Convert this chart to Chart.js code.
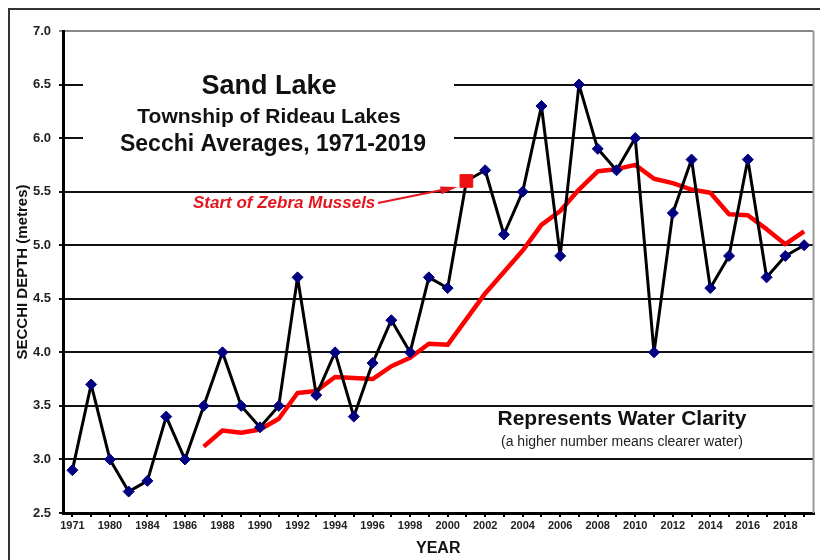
<!DOCTYPE html>
<html>
<head>
<meta charset="utf-8">
<title>Sand Lake Secchi Averages</title>
<script src="https://cdn.jsdelivr.net/npm/chart.js@4"></script>
<style>
  body { margin: 0; background: #fff; }
  #wrap { width: 820px; height: 560px; }
</style>
</head>
<body>
<div id="wrap"><canvas id="secchiChart" width="820" height="560"></canvas></div>
<script>
// Categories (only every other one is labelled on the axis)
const years = ['1971', '1977', '1980', '1982', '1984', '1985', '1986', '1987', '1988', '1989',
  '1990', '1991', '1992', '1993', '1994', '1995', '1996', '1997', '1998', '1999',
  '2000', '2001', '2002', '2003', '2004', '2005', '2006', '2007', '2008', '2009',
  '2010', '2011', '2012', '2013', '2014', '2015', '2016', '2017', '2018', '2019'];

// Yearly Secchi depth averages (metres)
const depth = [2.9, 3.7, 3.0, 2.7, 2.8, 3.4, 3.0, 3.5, 4.0, 3.5,
  3.3, 3.5, 4.7, 3.6, 4.0, 3.4, 3.9, 4.3, 4.0, 4.7,
  4.6, 5.6, 5.7, 5.1, 5.5, 6.3, 4.9, 6.5, 5.9, 5.7,
  6.0, 4.0, 5.3, 5.8, 4.6, 4.9, 5.8, 4.7, 4.9, 5.0];

// Trend line (moving average), starts in 1987
const trend = [null, null, null, null, null, null, null, 3.12, 3.27, 3.25,
  3.28, 3.38, 3.62, 3.64, 3.77, 3.76, 3.75, 3.87, 3.95, 4.08,
  4.07, 4.31, 4.55, 4.75, 4.95, 5.19, 5.32, 5.52, 5.69, 5.71,
  5.75, 5.62, 5.58, 5.52, 5.49, 5.29, 5.28, 5.15, 5.01, 5.13];

const zebraYear = '2001';
const yTicks = [2.5, 3.0, 3.5, 4.0, 4.5, 5.0, 5.5, 6.0, 6.5, 7.0];

const FONT = '"Liberation Sans", Arial, sans-serif';
const zebraIdx = years.indexOf(zebraYear);

function drawText(ctx, txt, x, y, font, color, align) {
  ctx.save();
  ctx.font = font;
  ctx.fillStyle = color;
  ctx.textAlign = align || 'center';
  ctx.textBaseline = 'alphabetic';
  ctx.fillText(txt, x, y);
  ctx.restore();
}

// Frame, title box and annotations
const decorations = {
  id: 'decorations',
  beforeDraw(chart) {
    const ctx = chart.ctx;
    ctx.save();
    ctx.fillStyle = '#fff';
    ctx.fillRect(0, 0, chart.width, chart.height);
    ctx.strokeStyle = '#333';
    ctx.lineWidth = 2;
    ctx.strokeRect(9, 9, chart.width + 20, chart.height + 20);
    ctx.restore();
  },
  beforeDatasetsDraw(chart) {
    const ctx = chart.ctx;
    const a = chart.chartArea;
    ctx.save();
    // white box behind the title hides part of the grid
    ctx.fillStyle = '#fff';
    ctx.fillRect(a.left + 20, 45, 371, 125);
    // right border of the plot
    ctx.strokeStyle = '#999';
    ctx.lineWidth = 2;
    ctx.beginPath();
    ctx.moveTo(a.right, a.top);
    ctx.lineTo(a.right, a.bottom);
    ctx.stroke();
    ctx.restore();
  },
  afterDraw(chart) {
    const ctx = chart.ctx;
    drawText(ctx, 'Sand Lake', 269, 94, 'bold 27px ' + FONT, '#111');
    drawText(ctx, 'Township of Rideau Lakes', 269, 123, 'bold 21px ' + FONT, '#111');
    drawText(ctx, 'Secchi Averages, 1971-2019', 273, 151, 'bold 23px ' + FONT, '#111');

    drawText(ctx, 'Represents Water Clarity', 622, 425, 'bold 21px ' + FONT, '#111');
    drawText(ctx, '(a higher number means clearer water)', 622, 446, '14px ' + FONT, '#222');

    drawText(ctx, 'Start of Zebra Mussels', 193, 208, 'italic bold 17px ' + FONT, '#e3161e', 'left');

    // arrow to the zebra mussel point
    const px = chart.scales.x.getPixelForValue(zebraIdx);
    const py = chart.scales.y.getPixelForValue(depth[zebraIdx]);
    const tx = px - 9, ty = py + 6;
    const sx = 378, sy = 203;
    const ang = Math.atan2(ty - sy, tx - sx);
    ctx.save();
    ctx.strokeStyle = '#e3161e';
    ctx.fillStyle = '#e3161e';
    ctx.lineWidth = 2;
    ctx.beginPath();
    ctx.moveTo(sx, sy);
    ctx.lineTo(tx - Math.cos(ang) * 12, ty - Math.sin(ang) * 12);
    ctx.stroke();
    ctx.beginPath();
    ctx.moveTo(tx, ty);
    ctx.lineTo(tx - Math.cos(ang) * 17 + Math.sin(ang) * 4, ty - Math.sin(ang) * 17 - Math.cos(ang) * 4);
    ctx.lineTo(tx - Math.cos(ang) * 17 - Math.sin(ang) * 4, ty - Math.sin(ang) * 17 + Math.cos(ang) * 4);
    ctx.closePath();
    ctx.fill();
    ctx.restore();
  }
};

const pointStyles = years.map((y, i) => i === zebraIdx ? 'rect' : 'rectRot');
const pointColors = years.map((y, i) => i === zebraIdx ? '#ee1111' : '#000080');
const pointSizes = years.map((y, i) => i === zebraIdx ? 9 : 5.5);

const ctx = document.getElementById('secchiChart').getContext('2d');
const secchiChart = new Chart(ctx, {
  type: 'line',
  data: {
    labels: years,
    datasets: [{
      label: 'Secchi depth',
      data: depth,
      borderColor: '#000',
      borderWidth: 3,
      borderJoinStyle: 'round',
      pointStyle: pointStyles,
      pointRadius: pointSizes,
      pointBackgroundColor: pointColors,
      pointBorderColor: pointColors,
      pointBorderWidth: 1,
      tension: 0,
      order: 0
    }, {
      label: 'Trend',
      data: trend,
      borderColor: '#ff0000',
      borderWidth: 4.5,
      borderJoinStyle: 'round',
      pointRadius: 0,
      tension: 0,
      order: 1
    }]
  },
  options: {
    responsive: false,
    animation: false,
    layout: { padding: { top: 31, right: 5, left: 0, bottom: 0 } },
    plugins: {
      legend: { display: false },
      tooltip: { enabled: false }
    },
    scales: {
      x: {
        type: 'category',
        offset: true,
        afterFit: function(scale) { scale.height = 47; },
        border: { color: '#000', width: 3 },
        grid: {
          display: true,
          drawOnChartArea: false,
          drawTicks: true,
          tickLength: 4,
          color: '#000',
          lineWidth: 2
        },
        ticks: {
          autoSkip: false,
          maxRotation: 0,
          padding: 2,
          color: '#222',
          font: { family: FONT, size: 11, weight: 'bold' },
          callback: function(val, i) { return i % 2 === 0 ? years[i] : ''; }
        },
        title: {
          display: true,
          text: 'YEAR',
          color: '#111',
          font: { family: FONT, size: 16, weight: 'bold' },
          padding: { top: 0, bottom: 2 }
        }
      },
      y: {
        min: 2.5,
        max: 7.0,
        afterFit: function(scale) { scale.width = 63; },
        afterBuildTicks: function(scale) { scale.ticks = yTicks.map(v => ({ value: v })); },
        border: { color: '#000', width: 3 },
        grid: {
          color: function(c) { return c.tick && c.tick.value === 7 ? '#888' : '#111'; },
          lineWidth: 2,
          tickLength: 4
        },
        ticks: {
          padding: 8,
          color: '#222',
          font: { family: FONT, size: 13, weight: 'bold' },
          callback: function(v) { return Number(v).toFixed(1); }
        },
        title: {
          display: true,
          text: 'SECCHI DEPTH (metres)',
          color: '#111',
          font: { family: FONT, size: 15, weight: 'bold' },
          padding: { top: 14, bottom: 0 }
        }
      }
    }
  },
  plugins: [decorations]
});
</script>
</body>
</html>
